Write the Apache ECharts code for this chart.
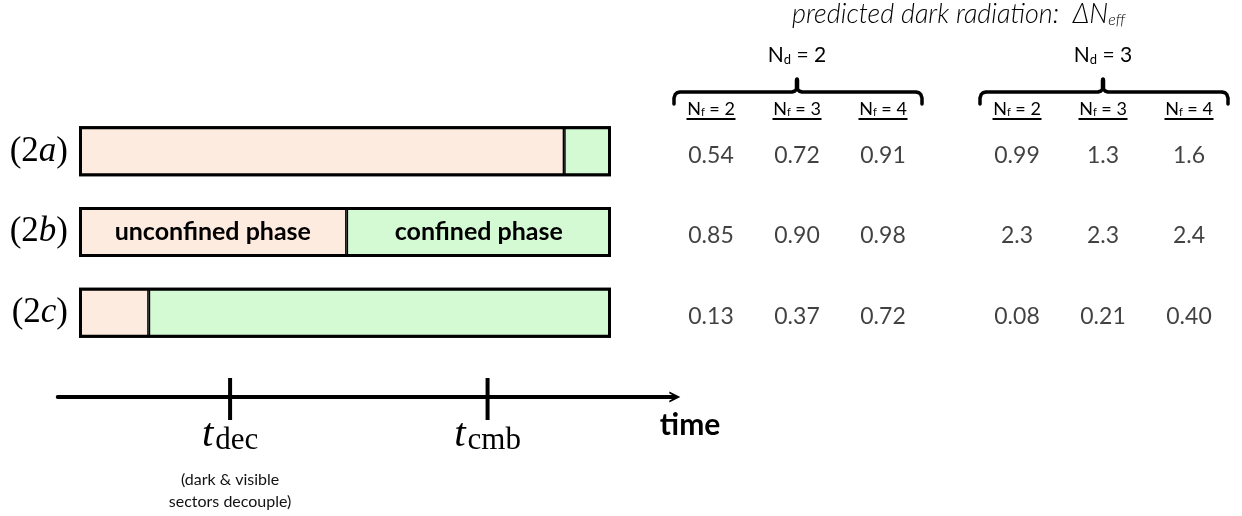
<!DOCTYPE html>
<html><head><meta charset="utf-8">
<script src="https://cdn.jsdelivr.net/npm/echarts@6/dist/echarts.min.js"></script>
<style>html,body{margin:0;padding:0;background:#fff}#c{width:1242px;height:516px}</style>
</head><body><div id="c"></div>
<script>
// ---------------- data ----------------
const scenarios = ['2a', '2b', '2c'];
const unconfinedSpan = [91.2, 50.3, 13.1];   // length of unconfined phase (bar units)
const confinedSpan = [8.8, 49.7, 86.9];      // length of confined phase (bar units)
const phaseNames = ['unconfined phase', 'confined phase'];
const labelledScenario = '2b';
const tickTimes = [28.4, 76.8];
const tickSubs = ['dec', 'cmb'];
const tickNotes = ['(dark & visible', 'sectors decouple)'];
const nfValues = ['2', '3', '4'];
const ndValues = ['2', '3'];
const dNeffNd2 = [['0.54', '0.72', '0.91'], ['0.85', '0.90', '0.98'], ['0.13', '0.37', '0.72']];
const dNeffNd3 = [['0.99', '1.3', '1.6'], ['2.3', '2.3', '2.4'], ['0.08', '0.21', '0.40']];

// ---------------- layout ----------------
const SANS = 'Lato, "Open Sans", sans-serif';
const SERIF = '"Liberation Serif", "DejaVu Serif", serif';
const BAR_L = 79, BAR_W = 532, BAR_MAX = 100;
const ROW_T = 111, ROW_H = 242;
const TAB_T = 115;
const HEAD_LIFT = 6;
const T_MIN = -4, T_MAX = 112;
const k = BAR_W / BAR_MAX;
const TAB = [{ left: 668, width: 258 }, { left: 974, width: 258 }];
const PEACH = '#fdebdf', GREEN = '#d4fad4';
const INK = '#000';

const chart = echarts.init(document.getElementById('c'), null, { renderer: 'canvas' });

function tableAxis(gi, nd) {
  return {
    gridIndex: gi, type: 'category', data: nfValues, position: 'top', offset: HEAD_LIFT,
    axisLine: { show: false }, axisTick: { show: false }, splitLine: { show: false },
    axisLabel: {
      margin: -11, interval: 0,
      formatter: v => '{n|N}{s|f}{n| = ' + v + '}\n{u|}',
      rich: {
        n: { fontFamily: SANS, fontWeight: 400, fontSize: 18, lineHeight: 16, color: INK, verticalAlign: 'bottom' },
        s: { fontFamily: SANS, fontWeight: 400, fontSize: 11, lineHeight: 6, color: INK, verticalAlign: 'bottom' },
        u: { width: 49, height: 2, lineHeight: 2, backgroundColor: INK }
      }
    },
    name: '{n|N}{s|d}{n| = ' + nd + '}', nameLocation: 'middle', nameGap: 49 - HEAD_LIFT, nameMoveOverlap: false,
    nameTextStyle: {
      rich: {
        n: { fontFamily: SANS, fontWeight: 400, fontSize: 21, lineHeight: 20, color: INK, verticalAlign: 'bottom' },
        s: { fontFamily: SANS, fontWeight: 400, fontSize: 13, lineHeight: 8, color: INK, verticalAlign: 'bottom' }
      }
    }
  };
}
function tableY(gi) {
  return { gridIndex: gi, type: 'category', data: scenarios, inverse: true, show: false };
}
function tableSeries(gi, table) {
  const data = [];
  table.forEach((row, r) => row.forEach((s, c) => data.push([c, r, parseFloat(s)])));
  return {
    type: 'scatter', xAxisIndex: gi, yAxisIndex: gi, data, symbolSize: 0,
    itemStyle: { color: 'rgba(0,0,0,0)' }, silent: true,
    label: {
      show: true, position: 'inside',
      formatter: p => table[p.data[1]][p.data[0]],
      fontFamily: SANS, fontWeight: 400, fontSize: 23, color: '#111'
    },
    labelLayout: { hideOverlap: false }
  };
}
function brace(t) {
  const x0 = t.left + 6, x1 = t.left + t.width - 4, xm = t.left + t.width / 2, y = 92;
  const st = { fill: null, stroke: INK, lineWidth: 3.5, lineJoin: 'round', lineCap: 'round' };
  return {
    type: 'group', silent: true,
    children: [
      { type: 'polyline', shape: { points: [[x0, 104], [x0, 98], [x0 + 1.2, 94.5], [x0 + 3, 92.8], [x0 + 6, y], [xm - 5, y], [xm - 2, 91], [xm - 0.5, 89], [xm, 86], [xm, 79]] }, style: st },
      { type: 'polyline', shape: { points: [[xm, 86], [xm + 0.5, 89], [xm + 2, 91], [xm + 5, y], [x1 - 6, y], [x1 - 3, 92.8], [x1 - 1.2, 94.5], [x1, 98], [x1, 104]] }, style: st },
      { type: 'line', shape: { x1: xm, y1: 80, x2: xm, y2: 88 }, style: { stroke: INK, lineWidth: 4.5, lineCap: 'round' } }
    ]
  };
}
function phaseData(spans, which) {
  return spans.map((v, i) => scenarios[i] === labelledScenario
    ? { value: v, label: { show: true, formatter: phaseNames[which] } }
    : { value: v });
}
const BAR_THICK = 50;
const barCommon = {
  type: 'bar', xAxisIndex: 0, yAxisIndex: 0, stack: 'phase', barWidth: BAR_THICK, barGap: '-100%', silent: true,
  label: { show: false, position: 'inside', color: INK, fontFamily: SANS, fontWeight: 'bold', fontSize: 25 }
};

const option = {
  animation: false,
  backgroundColor: '#fff',
  title: {
    text: '{a|predicted dark radiation:  ΔN}{s|eff}', left: 792, top: 0, padding: 0,
    textStyle: {
      rich: {
        a: { fontFamily: SANS, fontStyle: 'italic', fontWeight: 300, fontSize: 27, lineHeight: 28, color: INK, verticalAlign: 'bottom' },
        s: { fontFamily: SANS, fontStyle: 'italic', fontWeight: 300, fontSize: 16, lineHeight: 13, color: INK, verticalAlign: 'bottom' }
      }
    }
  },
  grid: [
    { left: BAR_L, top: ROW_T, width: BAR_W, height: ROW_H, outerBoundsMode: 'none' },
    { left: BAR_L + T_MIN * k, top: 357, width: (T_MAX - T_MIN) * k, height: 40, outerBoundsMode: 'none' },
    { left: TAB[0].left, top: TAB_T, width: TAB[0].width, height: ROW_H, outerBoundsMode: 'none' },
    { left: TAB[1].left, top: TAB_T, width: TAB[1].width, height: ROW_H, outerBoundsMode: 'none' }
  ],
  xAxis: [
    { gridIndex: 0, type: 'value', min: 0, max: BAR_MAX, show: false },
    {
      gridIndex: 1, type: 'value', min: T_MIN, max: T_MAX, position: 'bottom',
      axisLine: {
        show: true, onZero: false,
        symbol: ['none', 'path://M0,10 L5,0 L10,10 L8.2,10 L5,3.6 L1.8,10 Z'], symbolSize: [18, 11],
        lineStyle: { color: INK, width: 4 }
      },
      axisTick: { show: false }, axisLabel: { show: false }, splitLine: { show: false },
      name: 'time', nameLocation: 'end', nameGap: -15, nameMoveOverlap: false,
      nameTextStyle: { fontFamily: SANS, fontWeight: 'bold', fontSize: 30, color: INK, verticalAlign: 'top', lineHeight: 56 }
    },
    tableAxis(2, ndValues[0]),
    tableAxis(3, ndValues[1])
  ],
  yAxis: [
    {
      gridIndex: 0, type: 'category', data: scenarios, inverse: true,
      axisLine: { show: false }, axisTick: { show: false }, splitLine: { show: false },
      axisLabel: {
        margin: 11,
        formatter: v => '{r|(' + v[0] + '}{i|' + v[1] + '}{r|)}',
        rich: {
          r: { fontFamily: SERIF, fontSize: 35, color: INK },
          i: { fontFamily: SERIF, fontStyle: 'italic', fontSize: 35, color: INK }
        }
      }
    },
    { gridIndex: 1, type: 'value', min: 0, max: 1, show: false },
    tableY(2),
    tableY(3)
  ],
  series: [
    Object.assign({}, barCommon, {
      name: phaseNames[0], data: phaseData(unconfinedSpan, 0),
      itemStyle: { color: PEACH, borderColor: INK, borderWidth: 1.5 }
    }),
    Object.assign({}, barCommon, {
      name: phaseNames[1], data: phaseData(confinedSpan, 1),
      itemStyle: { color: GREEN, borderColor: INK, borderWidth: 1.5 }
    }),
    {
      // outer frame of each scenario bar: total of both phases
      type: 'bar', xAxisIndex: 0, yAxisIndex: 0, barWidth: BAR_THICK, barGap: '-100%', silent: true, z: 3,
      data: unconfinedSpan.map((v, i) => v + confinedSpan[i]),
      itemStyle: { color: 'rgba(0,0,0,0)', borderColor: INK, borderWidth: 3 }
    },
    {
      type: 'scatter', xAxisIndex: 1, yAxisIndex: 1, silent: true,
      data: tickTimes.map(t => [t, 0]),
      symbol: 'rect', symbolSize: [4, 42], symbolOffset: [0, 2],
      itemStyle: { color: INK, opacity: 1 },
      label: {
        show: true, position: 'bottom', distance: -6, align: 'center',
        formatter: p => '{t|t}{s|' + tickSubs[p.dataIndex] + '}' +
          (p.dataIndex === 0 ? '\n{g| }\n{n|' + tickNotes[0] + '}\n{n|' + tickNotes[1] + '}' : ''),
        rich: {
          t: { fontFamily: SERIF, fontStyle: 'italic', fontSize: 41, lineHeight: 42, color: INK, verticalAlign: 'bottom', padding: [0, 2, 0, 0] },
          s: { fontFamily: SERIF, fontSize: 31, lineHeight: 30, color: INK, verticalAlign: 'bottom' },
          g: { fontSize: 10, lineHeight: 13 },
          n: { fontFamily: SANS, fontWeight: 400, fontSize: 16, lineHeight: 22, color: '#111', align: 'center' }
        }
      }
    },
    tableSeries(2, dNeffNd2),
    tableSeries(3, dNeffNd3)
  ],
  graphic: TAB.map(brace)
};
chart.setOption(option);
</script></body></html>
